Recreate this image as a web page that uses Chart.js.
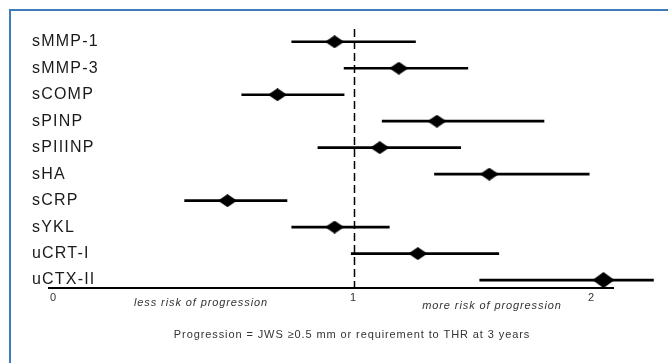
<!DOCTYPE html>
<html>
<head>
<meta charset="utf-8">
<script src="https://cdn.jsdelivr.net/npm/chart.js@4.4.1/dist/chart.umd.min.js"></script>
<style>
  html, body { margin: 0; padding: 0; background: #fff; overflow: hidden; }
  #frame { position: absolute; left: 9px; top: 9px; width: 700px; height: 400px;
           border-left: 2px solid #3f7cb9; border-top: 2px solid #3f7cb9; }
  #wrap { position: absolute; left: 0; top: 0; width: 668px; height: 363px; }
</style>
</head>
<body>
<div id="frame"></div>
<div id="wrap"><canvas id="forest"></canvas></div>
<script>
// ---------- data ----------
const markers   = ["sMMP-1", "sMMP-3", "sCOMP", "sPINP", "sPIIINP", "sHA", "sCRP", "sYKL", "uCRT-I", "uCTX-II"];
const estimates = [0.92, 1.19, 0.68, 1.35, 1.11, 1.57, 0.47, 0.92, 1.27, 2.05];
const lowerCI   = [0.74, 0.96, 0.53, 1.12, 0.85, 1.34, 0.29, 0.74, 0.99, 1.53];
const upperCI   = [1.26, 1.48, 0.96, 1.80, 1.45, 1.99, 0.72, 1.15, 1.61, 2.26];
const tickValues = [-0.26, 1, 2];
const tickLabels = ["0", "1", "2"];
const referenceValue = 1;

const FONT = '"Liberation Sans", Arial, sans-serif';

// ---------- helper: diamond marker ----------
function makeDiamond(w, h) {
  const c = document.createElement("canvas");
  c.width = w;
  c.height = h;
  const g = c.getContext("2d");
  g.beginPath();
  g.moveTo(w / 2, 0);
  g.lineTo(w, h / 2);
  g.lineTo(w / 2, h);
  g.lineTo(0, h / 2);
  g.closePath();
  g.fillStyle = "#000";
  g.fill();
  return c;
}
const diamond = makeDiamond(19, 13);
const bigDiamond = makeDiamond(22, 16);
const bigIndex = markers.indexOf("uCTX-II");

// ---------- plugin: reference line + notes ----------
const annotations = {
  id: "annotations",
  beforeDraw(chart) {
    // wider letter spacing for the axis labels, like the original figure
    chart.ctx.letterSpacing = "1.2px";
  },
  beforeDatasetsDraw(chart) {
    const { ctx, chartArea, scales: { x } } = chart;
    const px = Math.round(x.getPixelForValue(referenceValue)) + 0.5;
    ctx.save();
    ctx.strokeStyle = "#000";
    ctx.lineWidth = 1.5;
    ctx.setLineDash([8, 4]);
    ctx.beginPath();
    ctx.moveTo(px, chartArea.top + 1);
    ctx.lineTo(px, chartArea.bottom);
    ctx.stroke();
    ctx.restore();
  },
  afterDraw(chart) {
    const { ctx } = chart;
    ctx.save();
    ctx.fillStyle = "#333";
    ctx.textAlign = "center";
    ctx.textBaseline = "middle";
    ctx.font = "italic 11px " + FONT;
    ctx.letterSpacing = "0.9px";
    ctx.fillText("less risk of progression", 201, 303);
    ctx.fillText("more risk of progression", 492, 306);
    ctx.font = "11px " + FONT;
    ctx.letterSpacing = "0.9px";
    ctx.fillText("Progression = JWS \u22650.5 mm or requirement to THR at 3 years", 352, 335);
    ctx.restore();
  }
};

// ---------- chart ----------
new Chart(document.getElementById("forest"), {
  type: "scatter",
  data: {
    datasets: [
      {
        type: "bar",
        indexAxis: "y",
        data: markers.map((m, i) => ({ y: i, x: [lowerCI[i], upperCI[i]] })),
        backgroundColor: "#000",
        barThickness: 2,
        clip: false,
        order: 2
      },
      {
        type: "scatter",
        data: markers.map((m, i) => ({ x: estimates[i], y: i })),
        pointStyle: (c) => (c.dataIndex === bigIndex ? bigDiamond : diamond),
        pointRadius: 9,
        clip: false,
        order: 1
      }
    ]
  },
  options: {
    responsive: true,
    maintainAspectRatio: false,
    animation: false,
    layout: { padding: { left: 41, right: 55, top: 28, bottom: 0 } },
    plugins: {
      legend: { display: false },
      tooltip: { enabled: false }
    },
    scales: {
      x: {
        type: "linear",
        min: -0.28,
        max: 2.09,
        offset: false,
        grid: { display: false, drawTicks: false },
        border: { display: true, color: "#000", width: 2 },
        afterBuildTicks: (s) => { s.ticks = tickValues.map((v) => ({ value: v })); },
        afterFit: (s) => { s.height = 75; },
        ticks: {
          callback: (v, i) => tickLabels[i],
          autoSkip: false,
          maxRotation: 0,
          padding: 3,
          color: "#333",
          font: { family: FONT, size: 11 }
        }
      },
      y: {
        type: "linear",
        reverse: true,
        min: -0.52,
        max: 9.3,
        offset: false,
        grid: { display: false, drawTicks: false },
        border: { display: false },
        afterBuildTicks: (s) => { s.ticks = markers.map((m, i) => ({ value: i })); },
        afterFit: (s) => { s.width = 8; },
        ticks: {
          mirror: true,
          padding: -17,
          autoSkip: false,
          callback: (v, i) => markers[i],
          color: "#1a1a1a",
          font: { family: FONT, size: 16 }
        }
      }
    }
  },
  plugins: [annotations]
});
</script>
</body>
</html>
